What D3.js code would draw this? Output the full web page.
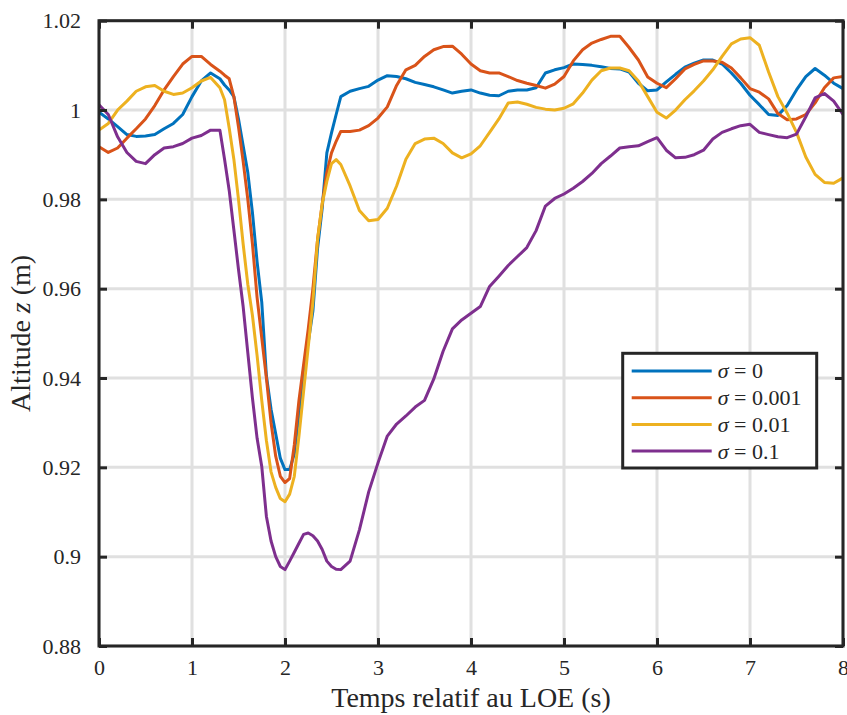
<!DOCTYPE html>
<html>
<head>
<meta charset="utf-8">
<script src="https://cdn.jsdelivr.net/npm/d3@7"></script>
<style>
  body { margin: 0; background: #fff; }
  svg { display: block; font-family: "Liberation Serif", "Times New Roman", serif; }
</style>
</head>
<body>
<svg id="chart"></svg>
<script>
// time samples (s) - finer around the dip
var time = [0,0.1,0.2,0.3,0.4,0.5,0.6,0.7,0.8,0.9,1.0,1.1,1.2,1.3,
  1.35,1.4,1.45,1.5,1.55,1.6,1.65,1.7,1.75,1.8,1.85,1.9,1.95,2.0,2.05,2.1,2.15,2.2,2.25,2.3,2.35,2.4,2.45,2.5,2.55,2.6,
  2.7,2.8,2.9,3.0,3.1,3.2,3.3,3.4,3.5,3.6,3.7,3.8,3.9,4.0,4.1,4.2,4.3,4.4,4.5,4.6,4.7,4.8,4.9,5.0,
  5.1,5.2,5.3,5.4,5.5,5.6,5.7,5.8,5.9,6.0,6.1,6.2,6.3,6.4,6.5,6.6,6.7,6.8,6.9,7.0,7.1,7.2,7.3,7.4,7.5,7.6,7.7,7.8,7.9,8.0];

var sigma0 = [0.9995,0.998,0.9963,0.9945,0.9941,0.9942,0.9945,0.9958,0.997,0.999,1.003,1.0065,1.0083,1.007,
  1.0056,1.0045,1.003,0.998,0.992,0.986,0.977,0.966,0.957,0.9405,0.933,0.9275,0.922,0.9195,0.9195,0.923,0.932,0.942,0.948,0.955,0.969,0.978,0.9904,0.9949,0.999,1.003,
  1.0042,1.0048,1.0053,1.0067,1.0077,1.0075,1.007,1.0062,1.0057,1.0052,1.0045,1.0038,1.0042,1.0045,1.0038,1.0033,1.0032,1.0042,1.0045,1.0045,1.005,1.0083,1.009,1.0095,
  1.0103,1.0102,1.01,1.0097,1.0093,1.0092,1.0085,1.006,1.0043,1.0045,1.0063,1.008,1.0096,1.0105,1.0112,1.0112,1.0103,1.0083,1.006,1.0033,1.0012,0.999,0.9988,1.001,1.0045,1.0075,1.0093,1.0078,1.006,1.0048];

var sigma001 = [0.9918,0.9905,0.9915,0.9937,0.9958,0.998,1.001,1.0045,1.0075,1.0103,1.012,1.012,1.0102,1.0087,
  1.0078,1.007,1.003,0.9962,0.9885,0.98,0.97,0.958,0.949,0.94,0.93,0.9225,0.918,0.9166,0.9175,0.925,0.935,0.943,0.951,0.96,0.971,0.979,0.986,0.9904,0.993,0.9952,
  0.9952,0.9955,0.9965,0.9982,1.0007,1.0055,1.009,1.01,1.012,1.0135,1.0142,1.0143,1.0125,1.0103,1.0088,1.0083,1.0083,1.0075,1.0066,1.006,1.0055,1.0049,1.0058,1.0075,
  1.011,1.0135,1.015,1.0158,1.0165,1.0165,1.014,1.0112,1.0074,1.006,1.005,1.007,1.0092,1.0102,1.011,1.011,1.0107,1.0094,1.0072,1.0048,1.004,1.0025,0.9992,0.9978,0.998,0.999,1.0016,1.005,1.0072,1.0075];

var sigma01 = [0.9955,0.997,1.0,1.002,1.0042,1.0052,1.0055,1.0042,1.0035,1.0038,1.005,1.0065,1.0073,1.005,
  1.0023,0.996,0.989,0.98,0.97,0.961,0.954,0.945,0.935,0.926,0.919,0.9155,0.913,0.9123,0.914,0.918,0.927,0.937,0.947,0.957,0.971,0.979,0.984,0.988,0.9889,0.9878,
  0.983,0.9775,0.9752,0.9755,0.978,0.983,0.989,0.9925,0.9935,0.9937,0.9925,0.9904,0.9893,0.9902,0.992,0.995,0.998,1.0016,1.0018,1.0013,1.0006,1.0002,1.0,1.0004,
  1.0014,1.0038,1.0067,1.0088,1.0094,1.0094,1.0088,1.0065,1.003,0.9995,0.9982,1.0,1.0023,1.0043,1.0065,1.009,1.012,1.0148,1.0159,1.0162,1.0145,1.0085,1.003,0.9993,0.995,0.9895,0.9856,0.9838,0.9836,0.9848];

var sigma1 = [1.0012,0.999,0.994,0.9905,0.9885,0.988,0.99,0.9915,0.9918,0.9925,0.9937,0.9943,0.9955,0.9955,
  0.989,0.982,0.9732,0.9643,0.956,0.9457,0.9355,0.9265,0.9202,0.909,0.9035,0.9,0.8978,0.8971,0.899,0.901,0.903,0.905,0.9053,0.9047,0.9035,0.9016,0.899,0.8978,0.8972,0.8971,
  0.899,0.906,0.9145,0.921,0.927,0.9297,0.9315,0.9335,0.935,0.9398,0.946,0.951,0.953,0.9545,0.956,0.9605,0.9628,0.9652,0.9672,0.9692,0.973,0.9785,0.9802,0.9812,
  0.9825,0.984,0.9858,0.988,0.9897,0.9915,0.9918,0.992,0.9929,0.9938,0.991,0.9893,0.9894,0.99,0.991,0.9935,0.995,0.9958,0.9965,0.9968,0.995,0.9945,0.994,0.9938,0.9946,0.9985,1.0027,1.0037,1.002,0.999];

var seriesNames = ["0", "0.001", "0.01", "0.1"];
var seriesValues = [sigma0, sigma001, sigma01, sigma1];
var colors = ["#0072BD", "#D95319", "#EDB120", "#7E2F8E"];

var xTicks = [0,1,2,3,4,5,6,7,8];
var yTicks = [0.88,0.9,0.92,0.94,0.96,0.98,1,1.02];
var yTickLabels = ["0.88","0.9","0.92","0.94","0.96","0.98","1","1.02"];

var W = 847, H = 715;
var margin = {top: 20.7, right: 4, bottom: 69, left: 99};
var w = W - margin.left - margin.right;
var h = H - margin.top - margin.bottom;

var svg = d3.select("#chart").attr("width", W).attr("height", H);
var g = svg.append("g").attr("transform", "translate(" + margin.left + "," + margin.top + ")");

var x = d3.scaleLinear().domain([0, 8]).range([0, w]);
var y = d3.scaleLinear().domain([0.88, 1.02]).range([h, 0]);

// grid
g.append("g").selectAll("line").data(xTicks).enter().append("line")
  .attr("x1", function(d){ return x(d); }).attr("x2", function(d){ return x(d); })
  .attr("y1", 0).attr("y2", h)
  .attr("stroke", "#e0e0e0").attr("stroke-width", 3);
g.append("g").selectAll("line").data(yTicks).enter().append("line")
  .attr("y1", function(d){ return y(d); }).attr("y2", function(d){ return y(d); })
  .attr("x1", 0).attr("x2", w)
  .attr("stroke", "#e0e0e0").attr("stroke-width", 3);

// lines
svg.append("defs").append("clipPath").attr("id", "clip")
  .append("rect").attr("x", 0).attr("y", 0).attr("width", w).attr("height", h);

var line = d3.line()
  .x(function(d){ return x(d[0]); })
  .y(function(d){ return y(d[1]); });

var plot = g.append("g").attr("clip-path", "url(#clip)");
seriesValues.forEach(function(vals, i){
  plot.append("path")
    .datum(time.map(function(t, k){ return [t, vals[k]]; }))
    .attr("d", line)
    .attr("fill", "none")
    .attr("stroke", colors[i])
    .attr("stroke-width", 3)
    .attr("stroke-linejoin", "round");
});

// axes (MATLAB style, ticks inward on all four sides)
var axisColor = "#262626";
function styleAxis(sel, labels) {
  sel.select(".domain").remove();
  sel.selectAll(".tick line").attr("stroke", axisColor).attr("stroke-width", 3);
  sel.selectAll(".tick text").attr("fill", axisColor).style("font-size", "22px")
    .style("font-family", "'Liberation Serif', serif");
  if (!labels) sel.selectAll(".tick text").remove();
}

g.append("g").attr("transform", "translate(0," + h + ")")
  .call(d3.axisBottom(x).tickValues(xTicks).tickSize(-8).tickPadding(13).tickFormat(d3.format("d")))
  .call(styleAxis, true);
g.append("g")
  .call(d3.axisTop(x).tickValues(xTicks).tickSize(-8))
  .call(styleAxis, false);
g.append("g")
  .call(d3.axisLeft(y).tickValues(yTicks).tickSize(-8).tickPadding(18)
    .tickFormat(function(d, i){ return yTickLabels[i]; }))
  .call(styleAxis, true);
g.append("g").attr("transform", "translate(" + w + ",0)")
  .call(d3.axisRight(y).tickValues(yTicks).tickSize(-8))
  .call(styleAxis, false);

g.append("rect").attr("x", 0).attr("y", 0).attr("width", w).attr("height", h)
  .attr("fill", "none").attr("stroke", axisColor).attr("stroke-width", 3);

// axis labels
svg.append("text")
  .attr("x", margin.left + w / 2).attr("y", 707)
  .attr("text-anchor", "middle").attr("fill", axisColor)
  .style("font-size", "28px")
  .text("Temps relatif au LOE (s)");

var yl = svg.append("text")
  .attr("transform", "translate(30," + (margin.top + h / 2) + ") rotate(-90)")
  .attr("text-anchor", "middle").attr("fill", axisColor)
  .style("font-size", "28px");
yl.append("tspan").text("Altitude ");
yl.append("tspan").style("font-style", "italic").text("z");
yl.append("tspan").text(" (m)");

// legend
var lg = svg.append("g").attr("transform", "translate(622.7,353.3)");
lg.append("rect").attr("width", 194).attr("height", 114.7)
  .attr("fill", "#fff").attr("stroke", axisColor).attr("stroke-width", 3);
seriesNames.forEach(function(name, i){
  var yy = 17.7 + i * 26.7;
  lg.append("line").attr("x1", 9).attr("x2", 89).attr("y1", yy).attr("y2", yy)
    .attr("stroke", colors[i]).attr("stroke-width", 3);
  var t = lg.append("text").attr("x", 95).attr("y", yy + 7.5)
    .attr("fill", axisColor).style("font-size", "22px");
  t.append("tspan").style("font-style", "italic").text("σ");
  t.append("tspan").text(" = " + name);
});
</script>
</body>
</html>
